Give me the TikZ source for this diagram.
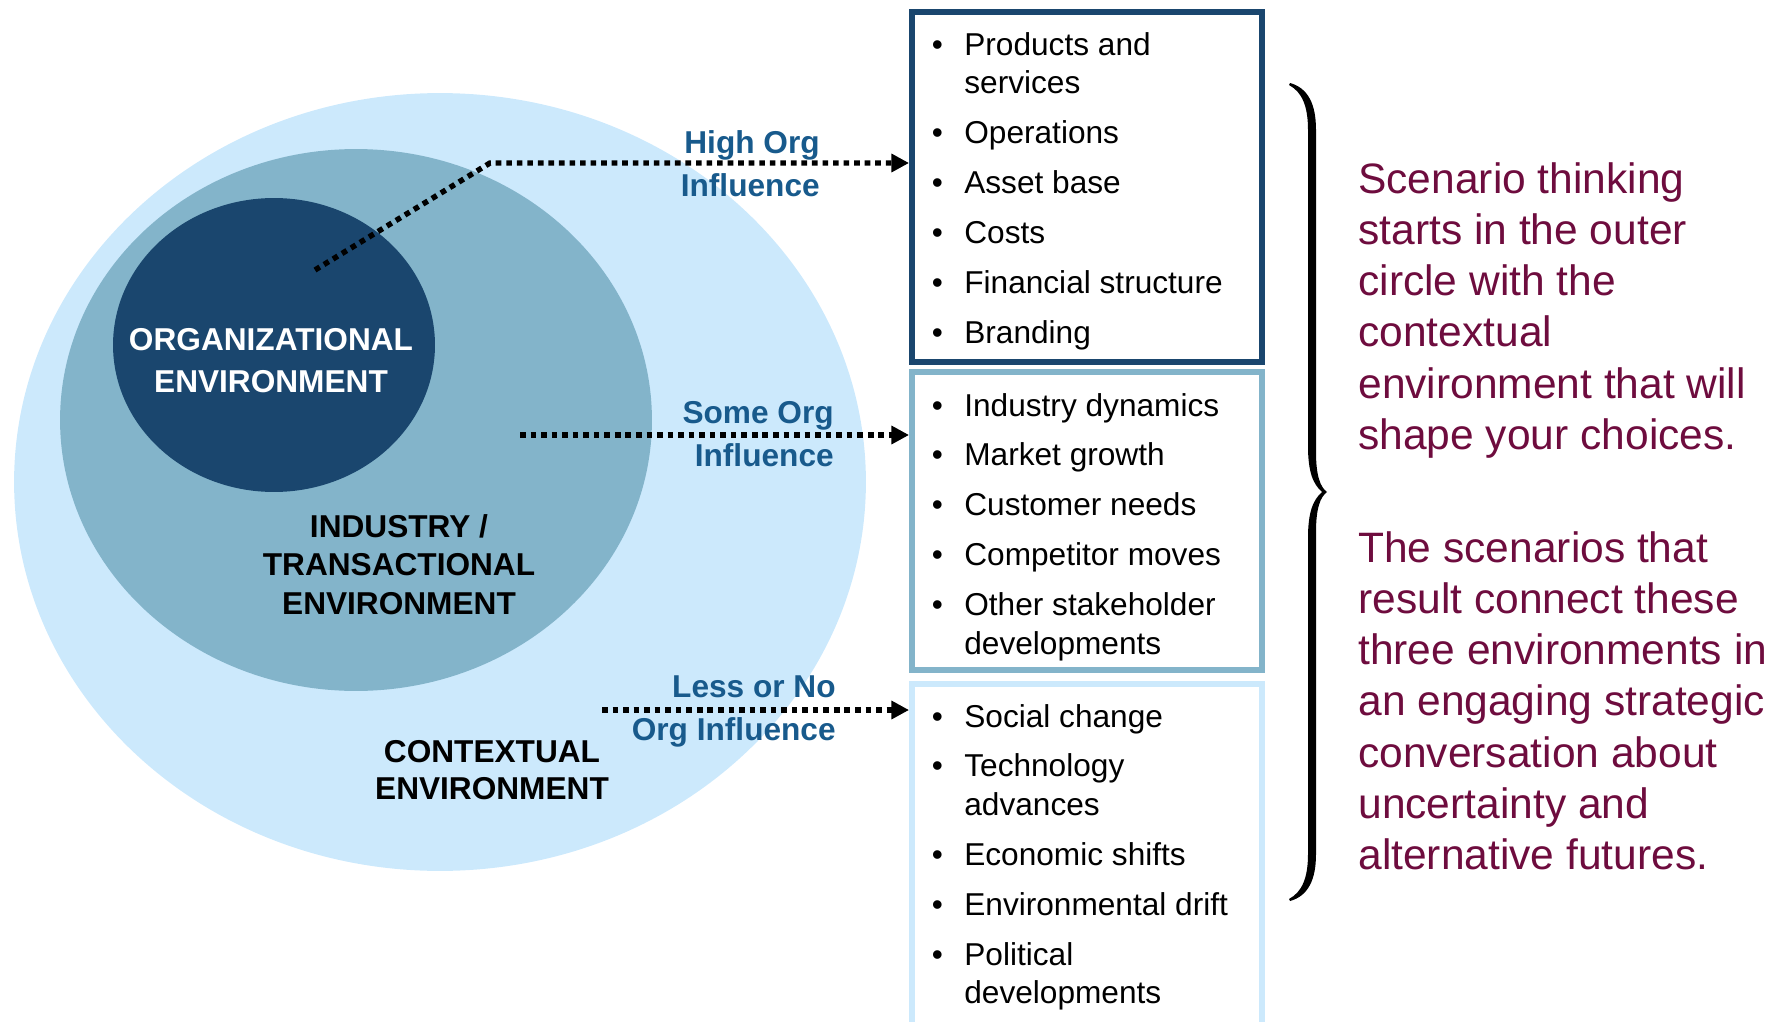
\documentclass[tikz,border=0pt]{standalone}
\usepackage{fontspec}
\setmainfont{Liberation Sans}
\usetikzlibrary{shapes.geometric,arrows.meta}
\definecolor{ctxblue}{RGB}{204,233,252}
\definecolor{indblue}{RGB}{131,180,202}
\definecolor{orgblue}{RGB}{26,70,110}
\definecolor{inflblue}{RGB}{24,90,140}
\definecolor{maroon}{RGB}{110,12,62}
\newcommand\bul{\leavevmode\llap{\textbullet\hspace{0.43cm}}}
\newcommand\itemfont{\fontsize{18}{22}\selectfont}
\newcommand\itemgap{6.4pt}

\begin{document}
\begin{tikzpicture}[x=0.02cm,y=-0.02cm,
  envlabel/.style={inner sep=0,anchor=base},
  inflabel/.style={inner sep=0,anchor=base east,text=inflblue},
  flow/.style={line width=3.1pt,dash pattern=on 3.2pt off 2.8pt,-{Triangle[length=10pt,width=10pt]}}]
\useasboundingbox (0,0) rectangle (1785,1021);
\clip (0,0) rectangle (1785,1021);

% the three environments
\foreach \c/\x/\y/\w/\h [count=\n] in
     {ctxblue/440/482/17.04/15.56,indblue/356/420/11.84/10.84,orgblue/274/345/6.44/5.88}
   \node[ellipse,fill=\c,inner sep=0,minimum width=\w cm,minimum height=\h cm](E\n) at (\x,\y) {};

\node[envlabel,text=white] (L3) at (271,350) {\parbox[t]{8cm}{\centering\bfseries\fontsize{18}{24}\selectfont ORGANIZATIONAL\\ENVIRONMENT}};
\node[envlabel] (L2) at (399,537) {\parbox[t]{8cm}{\centering\bfseries\fontsize{18}{22}\selectfont INDUSTRY /\\TRANSACTIONAL\\ENVIRONMENT}};
\node[envlabel] (L1) at (492,762) {\parbox[t]{8cm}{\centering\bfseries\fontsize{18}{21.2}\selectfont CONTEXTUAL\\ENVIRONMENT}};

% list boxes
\foreach \c/\y/\h [count=\n] in {orgblue/187/7,indblue/521/5.96,ctxblue/867/7.32}
   \node[draw=\c,line width=0.12cm,inner sep=0,minimum width=7cm,minimum height=\h cm](B\n) at (1087,\y) {};

\node[anchor=base west,inner sep=0] (T1) at (964,55) {\parbox[t]{7cm}{\itemfont
  \bul Products and\\services\\[\itemgap]
  \bul Operations\\[\itemgap]
  \bul Asset base\\[\itemgap]
  \bul Costs\\[\itemgap]
  \bul Financial structure\\[\itemgap]
  \bul Branding}};
\node[anchor=base west,inner sep=0] (T2) at (964,416) {\parbox[t]{7cm}{\itemfont
  \bul Industry dynamics\\[\itemgap]
  \bul Market growth\\[\itemgap]
  \bul Customer needs\\[\itemgap]
  \bul Competitor moves\\[\itemgap]
  \bul Other stakeholder\\developments}};
\node[anchor=base west,inner sep=0] (T3) at (964,727) {\parbox[t]{7cm}{\itemfont
  \bul Social change\\[\itemgap]
  \bul Technology\\advances\\[\itemgap]
  \bul Economic shifts\\[\itemgap]
  \bul Environmental drift\\[\itemgap]
  \bul Political\\developments}};

% influence arrows
\coordinate (hiS) at (315,270);
\coordinate (hiC) at (490,163);
\coordinate (soS) at (520,435);
\coordinate (leS) at (602,710);
\draw[flow] (hiS) -- (hiC) -- (hiC -| B1.west);
\draw[flow] (soS) -- (soS -| B2.west);
\draw[flow] (leS) -- (leS -| B3.west);

\node[inflabel] (I1) at (820,153) {\parbox[t]{5cm}{\raggedleft\bfseries\fontsize{18}{25}\selectfont High Org\\Influence}};
\node[inflabel] (I2) at (834,423) {\parbox[t]{5cm}{\raggedleft\bfseries\fontsize{18}{25}\selectfont Some Org\\Influence}};
\node[inflabel] (I3) at (836,697) {\parbox[t]{5cm}{\raggedleft\bfseries\fontsize{18}{25}\selectfont Less or No\\Org Influence}};

% brace and summary
\fill (1290,83) .. controls (1308,88) and (1316,104) .. (1316,130) -- (1316,452)
   .. controls (1316,475) and (1320,487) .. (1327,492)
   .. controls (1320,497) and (1316,509) .. (1316,532) -- (1316,854)
   .. controls (1316,880) and (1308,896) .. (1290,901) -- (1289,899)
   .. controls (1302,892) and (1308,878) .. (1308,854) -- (1308,538)
   .. controls (1308,512) and (1313,500) .. (1322,492)
   .. controls (1313,484) and (1308,472) .. (1308,446) -- (1308,130)
   .. controls (1308,106) and (1302,92) .. (1289,85) -- cycle;

\node[anchor=base west,inner sep=0,text=maroon] (P1) at (1358,193) {\parbox[t]{9cm}{\raggedright\fontsize{24.2}{29.2}\selectfont
  Scenario thinking\\starts in the outer\\circle with the\\contextual\\environment that will\\shape your choices.}};
\node[anchor=base west,inner sep=0,text=maroon] (P2) at (1358,562) {\parbox[t]{9cm}{\raggedright\fontsize{24.2}{29.2}\selectfont
  The scenarios that\\result connect these\\three environments in\\an engaging strategic\\conversation about\\uncertainty and\\alternative futures.}};

\end{tikzpicture}
\end{document}
